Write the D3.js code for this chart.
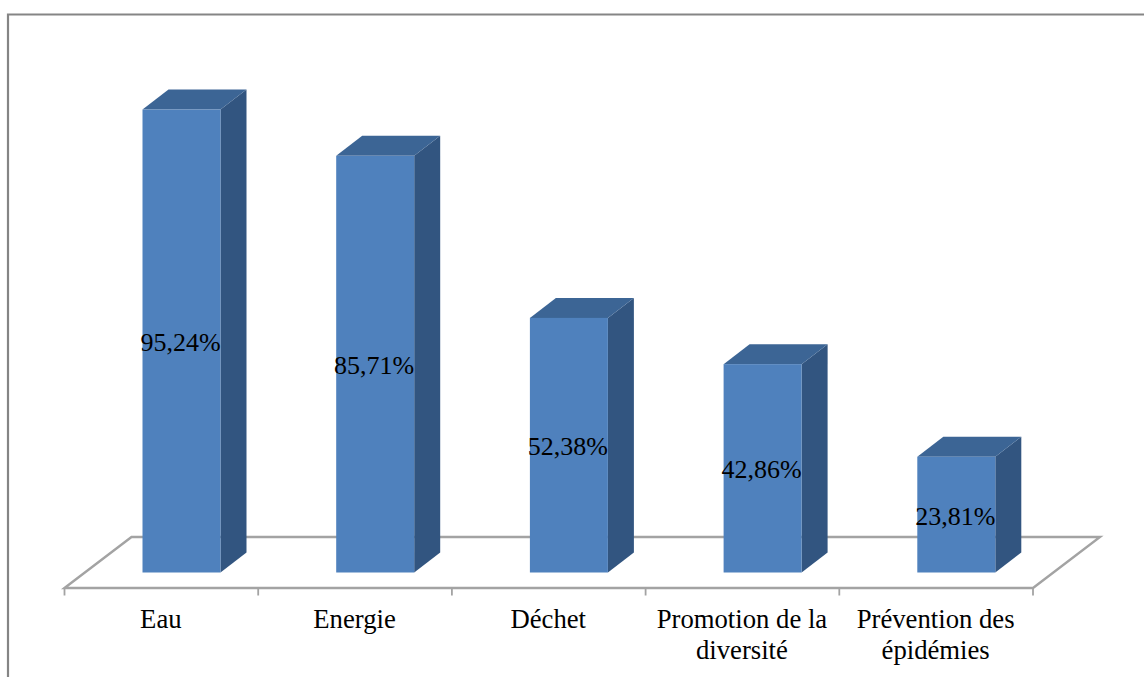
<!DOCTYPE html>
<html><head><meta charset="utf-8">
<script src="https://cdn.jsdelivr.net/npm/d3@7/dist/d3.min.js"></script>
<style>html,body{margin:0;padding:0;background:#fff}svg{display:block}</style>
</head><body><svg id="c" width="1144" height="677"></svg>
<script>
const categories = ["Eau","Energie","Déchet","Promotion de la|diversité","Prévention des|épidémies"];
const values = [95.24,85.71,52.38,42.86,23.81];
const valueLabels = ["95,24%","85,71%","52,38%","42,86%","23,81%"];

const svg = d3.select("#c");
const font = "'Liberation Serif','Times New Roman',serif";
const barW = 78, depthX = 26, depthY = 20, floorDX = 67, floorDY = 51;
const baseY = 572.5, floorY = 588;

const x = d3.scaleBand().domain(categories).range([64.5,1033]);
const y = d3.scaleLinear().domain([0,100]).range([baseY, baseY-486.1]);

// frame
svg.append("path").attr("d","M8,677V14.5H1144").attr("fill","none").attr("stroke","#858585").attr("stroke-width",2.2);

// floor
const x0 = x.range()[0], x1 = x.range()[1];
svg.append("path")
  .attr("d",`M${x0},${floorY}L${x0+floorDX},${floorY-floorDY}H${x1+floorDX}L${x1},${floorY}Z`)
  .attr("fill","#fff").attr("stroke","#a3a3a3").attr("stroke-width",2.4);

// ticks at category edges
const edges = categories.map(c=>x(c)).concat([x1]);
svg.selectAll("line.t").data(edges).join("line").attr("class","t")
  .attr("x1",d=>d).attr("x2",d=>d).attr("y1",floorY).attr("y2",595.5)
  .attr("stroke","#a3a3a3").attr("stroke-width",1.8);

// bars
const g = svg.selectAll("g.bar").data(categories.map((c,i)=>({c,v:values[i],l:valueLabels[i]}))).join("g").attr("class","bar");
const bx = d=>x(d.c)+78;
g.append("path").attr("fill","#325580")
  .attr("d",d=>`M${bx(d)+barW},${y(d.v)}l${depthX},${-depthY}V${baseY-depthY}l${-depthX},${depthY}Z`);
g.append("path").attr("fill","#3c6595")
  .attr("d",d=>`M${bx(d)},${y(d.v)}l${depthX},${-depthY}h${barW}l${-depthX},${depthY}Z`);
g.append("rect").attr("fill","#4f81bd")
  .attr("x",bx).attr("y",d=>y(d.v)).attr("width",barW).attr("height",d=>baseY-y(d.v));
g.append("text").text(d=>d.l)
  .attr("x",d=>bx(d)+barW/2-1).attr("y",d=>(y(d.v)+baseY)/2+10)
  .attr("text-anchor","middle").attr("font-family",font).attr("font-size",26).attr("fill","#000");

// category labels
const lab = svg.selectAll("text.cat").data(categories).join("text").attr("class","cat")
  .attr("text-anchor","middle").attr("font-family",font).attr("font-size",26.7).attr("fill","#000");
lab.selectAll("tspan").data(c=>c.split("|").map(s=>({s,c}))).join("tspan")
  .attr("x",d=>x(d.c)+x.bandwidth()/2-0.5)
  .attr("y",(d,i)=>628+i*31)
  .text(d=>d.s);
</script></body></html>
